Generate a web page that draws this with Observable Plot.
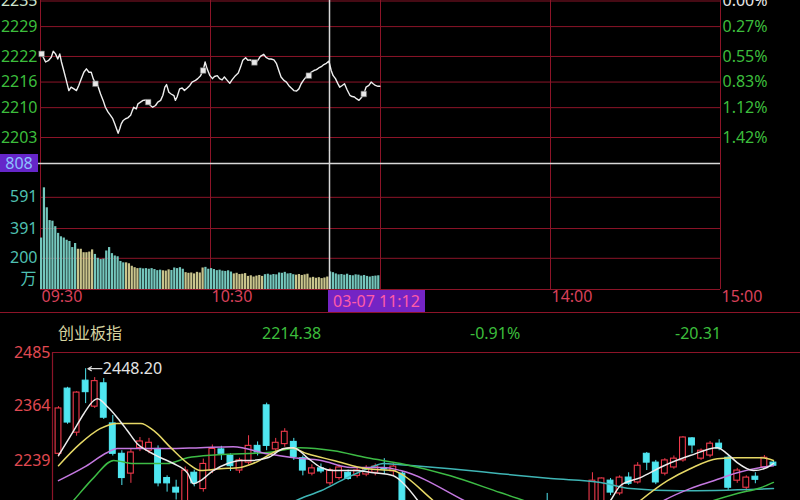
<!DOCTYPE html>
<html><head><meta charset="utf-8">
<script src="https://cdn.jsdelivr.net/npm/d3@7"></script>
<script src="https://cdn.jsdelivr.net/npm/@observablehq/plot@0.6"></script>
<style>
body{margin:0;background:#000;}
#root{position:relative;width:800px;height:500px;overflow:hidden;background:#000;font-family:"Noto Sans","Noto Sans CJK SC",sans-serif;}
#root svg{position:absolute;left:0;}
.lbl{position:absolute;font-size:16px;line-height:1;white-space:nowrap;}
.box{position:absolute;font-size:16px;display:flex;align-items:center;justify-content:center;white-space:nowrap;}
</style></head><body><div id="root"></div>
<script>
// ---------- intraday price (minutes after 09:30) ----------
const priceMinute = [0.4,1.8,2.9,3.8,4.5,5.3,6.1,6.8,7.4,8.2,9.1,10,10.8,11.8,12.7,13.5,14.4,15.3,16.2,17.1,17.9,18.6,19.4,20.2,21.2,22.1,22.9,23.8,24.7,25.5,26.2,26.8,27.4,28,28.5,29.2,30,30.8,31.8,32.4,32.9,33.8,34.4,35.3,36.2,37.1,38,38.8,39.6,40.6,41.4,42.4,43.2,43.9,44.5,45.3,46.1,47.1,47.6,48.2,49.1,50,50.8,51.8,52.7,53.5,54.7,55.5,56.5,57.4,58.1,58.8,59.8,60.7,61.4,62.4,63.2,64.1,64.9,65.9,66.8,67.6,68.8,69.8,70.6,71.4,72.4,73.2,74.1,74.9,75.9,76.7,77.6,78.8,79.6,80.6,81.4,82.4,83.3,84.1,84.9,85.9,86.8,87.6,88.5,89.4,90.4,91.2,92,92.9,93.9,94.7,95.5,96.5,97.4,98.2,99.1,100,100.9,101.8,102.6,103.3,104.1,104.9,105.6,106.5,107.3,108.2,109.2,110,110.8,111.5,112.4,113.2,114.1,114.9,115.9,116.7,117.4,118.2,119.1,119.8];
const priceValue = [2222.6,2220.7,2221.1,2221.8,2223.2,2222.6,2221.4,2222.6,2220.7,2218.7,2216.4,2214.0,2214.8,2214.4,2214.0,2215.2,2216.8,2218.3,2219.1,2218.3,2218.3,2216.8,2215.6,2215.2,2213.2,2211.7,2210.1,2209.0,2208.2,2207.4,2206.2,2205.1,2204.0,2205.1,2206.2,2207.0,2207.4,2207.6,2208.2,2209.3,2210.1,2209.7,2210.9,2211.3,2211.7,2211.8,2211.3,2210.5,2210.1,2210.5,2211.3,2211.7,2212.9,2214.8,2215.4,2213.6,2213.2,2212.8,2211.7,2212.5,2214.4,2214.6,2214.0,2214.6,2215.2,2216.0,2216.4,2216.8,2217.5,2218.7,2220.7,2219.1,2217.5,2216.8,2217.3,2217.5,2216.8,2216.5,2217.2,2216.4,2215.7,2216.5,2217.5,2218.1,2219.5,2221.1,2221.7,2221.1,2221.2,2220.7,2220.4,2221.1,2222.0,2222.5,2221.8,2221.4,2221.4,2221.2,2220.3,2218.7,2217.2,2216.4,2216.0,2215.2,2214.6,2214.0,2213.9,2214.4,2215.6,2216.5,2217.3,2217.5,2218.3,2218.7,2218.9,2219.3,2219.6,2220.1,2220.4,2220.9,2218.7,2217.5,2216.8,2215.7,2214.8,2215.2,2215.6,2214.2,2212.9,2212.6,2212.5,2212.1,2211.7,2212.3,2213.2,2214.8,2215.2,2216.0,2215.6,2215.2,2215.0,2215.0];
const markerMinute = [0.4,19.4,38,57.4,75.5,94.7,114.1];
const markerValue = [2222.6,2215.6,2211.3,2218.7,2220.6,2217.5,2213.2];
const priceTicks = [2235,2229,2222,2216,2210,2203];
const pctTicks = ["0.00%","0.27%","0.55%","0.83%","1.12%","1.42%"];

// ---------- volume (万), one bar per minute ----------
const volume = [330,652,524,442,438,403,360,338,330,316,308,269,295,258,258,236,236,240,254,225,200,192,195,247,269,230,215,210,180,171,171,165,149,140,134,136,132,134,130,134,128,121,124,120,118,126,122,138,134,140,130,108,104,106,100,110,106,138,142,130,134,128,121,124,118,116,120,112,100,104,96,98,102,84,88,80,86,90,84,95,98,92,96,94,106,104,110,100,102,95,92,96,90,94,98,74,78,72,76,70,74,80,113,108,100,94,96,92,98,90,88,94,92,86,90,84,80,84,86,88];
const volumeDir = ["ttttttttttttt","yyyyyy","ttttttttttt","yyyyy","tttttttt","yyy","ttttt","yyyyyyy","tttttttttt","yyyyyyyyyyy","ttttttttttt","yyyyyyyyyyyy","tttttttttttttttttt"].join("");
const volumeTicks = [591,391,200];
const volumeCross = 808;

// ---------- time axis ----------
const gridMinutes = [0,60,120,180,240];
const timeTickMinutes = [0,60,180,240];
const timeTickLabels = ["09:30","10:30","14:00","15:00"];
const crossMinute = 102;
const crossLabel = "03-07 11:12";

// ---------- header ----------
const headerLabels = ["创业板指","2214.38","-0.91%","-20.31"];

// ---------- daily candles ----------
const candleOpen = [2255,2403,2303,2421,2362,2415,2324,2255,2210,2268,2262,2266,2200,2178,2140,2212,2175,2217,2265,2250,2217,2235,2273,2365,2265,2277,2282,2245,2210,2222,2188,2200,2212,2205,2208,2212,2222,2215,2210,2100,2070,2080,2030,2045,2060,2080,2055,2075,2100,2080,2095,2115,2100,2125,2125,2115,2130,2120,2135,2140,2145,2194,2165,2201,2190,2255,2235,2210,2224,2240,2290,2244,2251,2278,2246,2194,2178,2203,2224,2235];
const candleHigh = [2362,2406,2396,2448.2,2428,2426,2342,2262,2265,2292,2290,2273,2205,2195,2225,2218,2243,2275,2272,2255,2245,2296,2282,2370,2290,2312,2290,2250,2230,2232,2222,2230,2218,2222,2228,2232,2244,2235,2215,2120,2095,2090,2060,2070,2090,2100,2085,2110,2120,2105,2125,2130,2135,2140,2165,2140,2145,2140,2145,2212,2200,2199,2205,2212,2235,2258,2240,2244,2250,2294,2292,2266,2283,2287,2250,2222,2205,2212,2251,2238];
const candleLow = [2248,2322,2295,2369,2358,2333,2250,2183,2188,2260,2255,2180,2168,2150,2120,2180,2168,2210,2240,2215,2210,2230,2250,2262,2260,2270,2240,2205,2205,2210,2182,2195,2195,2200,2203,2205,2208,2205,2080,2060,2040,2020,2000,2020,2040,2050,2030,2060,2070,2060,2085,2090,2090,2105,2110,2100,2110,2105,2115,2130,2135,2160,2160,2183,2186,2217,2185,2205,2220,2236,2255,2240,2246,2262,2172,2188,2170,2187,2220,2226];
const candleClose = [2358,2326,2394,2395,2420,2337,2255,2200,2258,2283,2280,2188,2188,2167,2217,2188,2232,2266,2255,2227,2240,2273,2258,2273,2280,2305,2248,2217,2222,2215,2217,2224,2198,2217,2222,2226,2220,2226,2100,2070,2085,2030,2050,2060,2080,2055,2075,2100,2080,2095,2115,2100,2125,2110,2120,2130,2120,2135,2140,2194,2199,2167,2201,2187,2228,2235,2190,2240,2244,2292,2274,2262,2278,2267,2178,2217,2201,2196,2246,2228];
const candleTicks = [2485,2364,2239];

// moving averages: [candle index, value]
const ma5 = [[0,2251],[1.7,2308],[2.8,2346],[3.9,2376],[4.3,2380],[5.5,2360],[6.5,2337],[7.6,2308],[8.7,2278],[9.8,2262],[11.3,2246],[12.7,2233],[14.3,2210],[14.9,2187],[15.7,2194],[17.1,2217],[18.7,2233],[20.1,2240],[21.2,2240],[23.1,2246],[24.9,2267],[26,2269],[27.5,2246],[29,2224],[30.4,2217],[32.6,2217],[34.8,2212],[37,2205],[38,2190],[39.7,2149],[41,2110],[50,2060],[59,2100],[61,2149],[62.1,2183],[64.3,2201],[66.9,2228],[69.8,2251],[72.8,2269],[73.9,2255],[75,2235],[76.8,2217],[78.3,2224],[79,2233]];
const ma10 = [[0,2228],[2.4,2278],[4.6,2312],[6.5,2324],[9.1,2324],[10.5,2308],[12.4,2269],[14.3,2233],[15.7,2217],[17.9,2221],[20.1,2224],[21.5,2233],[24.2,2262],[25.6,2269],[27.5,2255],[30.4,2240],[34.1,2221],[37,2217],[37.8,2210],[41.4,2149],[45,2090],[55,2060],[61,2090],[64.3,2149],[67.3,2194],[69.8,2221],[72.8,2244],[75,2246],[77.6,2246],[79,2240]];
const ma20 = [[0,2194],[2.8,2224],[5.4,2258],[6.5,2267],[8.3,2267],[12,2267],[15.7,2269],[19.3,2271],[23.1,2255],[26,2246],[29,2240],[32.3,2224],[35.9,2224],[37.8,2217],[44.8,2149],[50,2090],[58,2060],[63,2090],[66.9,2149],[69.8,2176],[72.4,2194],[75,2212],[77.6,2224],[79,2228]];
const ma30 = [[0,2110],[1.66,2149],[3.9,2201],[6.1,2240],[8.3,2233],[12,2233],[14.25,2246],[17.6,2253],[23.1,2258],[26.7,2269],[30.4,2262],[34.1,2246],[37.8,2233],[43.3,2205],[48.8,2167],[51.4,2149],[58,2090],[66,2090],[72.4,2149],[75,2165],[77.6,2178],[79,2190]];
const ma60 = [[20,2080],[26.7,2153],[29,2171],[31.9,2201],[34.5,2224],[35.9,2233],[37.8,2230],[43.3,2221],[48.8,2210],[54.4,2199],[59.9,2190],[63.2,2176],[68.7,2171],[79,2176]];

// ---------- drawing ----------
const RED = "#8c1428";
const GREEN = "#3cbd3c";
const FONT = "Noto Sans, Noto Sans CJK SC, sans-serif";
const baseStyle = {background: "transparent", fontFamily: FONT, fontSize: "16px", overflow: "visible"};
const root = document.getElementById("root");

function place(svg, top) { svg.style.top = top + "px"; root.appendChild(svg); }

const priceData = priceMinute.map((m, i) => ({m, v: priceValue[i]}));
const markerData = markerMinute.map((m, i) => ({m, v: markerValue[i]}));

const plotA = Plot.plot({
  width: 800, height: 150, marginLeft: 40, marginRight: 80, marginTop: 0.5, marginBottom: 13,
  x: {domain: [0, 240], axis: null},
  y: {domain: [2203, 2235], axis: null},
  color: {type: "identity"},
  style: baseStyle,
  marks: [
    Plot.ruleY(priceTicks, {stroke: RED, strokeWidth: 1}),
    Plot.ruleX(gridMinutes, {y1: 2199.9, y2: 2236, stroke: RED, strokeWidth: 1}),
    Plot.ruleX([crossMinute], {y1: 2199.9, y2: 2236, stroke: "#d8d8d8", strokeWidth: 1.5}),
    Plot.line(priceData, {x: "m", y: "v", stroke: "#eeeeee", strokeWidth: 1.4}),
    Plot.dot(markerData, {x: "m", y: "v", symbol: "square", r: 3.2, fill: "#e8e8e8", stroke: "#555", strokeWidth: 0.6}),
    Plot.text(priceTicks, {y: d => d, text: d => String(d), frameAnchor: "left", dx: -3, textAnchor: "end",
      fill: (d, i) => i === 0 ? "#cfe5cf" : GREEN, fontSize: 16}),
    Plot.text(pctTicks, {y: (d, i) => priceTicks[i], text: d => d, frameAnchor: "right", dx: 2, textAnchor: "start",
      fill: (d, i) => i === 0 ? "#e8e8e8" : GREEN, fontSize: 16})
  ]
});
place(plotA, 0);

const volData = volume.map((v, m) => ({m, v, c: volumeDir[m] === "y" ? "#c9c48c" : "#74c6bc"}));
const plotB = Plot.plot({
  width: 800, height: 165, marginLeft: 40, marginRight: 80, marginTop: 13, marginBottom: 26,
  x: {domain: [0, 240], axis: null},
  y: {domain: [0, 808], axis: null},
  color: {type: "identity"},
  style: baseStyle,
  marks: [
    Plot.ruleY([0, ...volumeTicks], {stroke: RED, strokeWidth: 1}),
    Plot.ruleX(gridMinutes, {y1: 0, y2: 892, stroke: RED, strokeWidth: 1}),
    Plot.rectY(volData, {x1: "m", x2: d => d.m + 0.78, y: "v", fill: "c"}),
    Plot.ruleX([crossMinute], {y1: 0, y2: 892, stroke: "#d8d8d8", strokeWidth: 1.5}),
    Plot.ruleY([volumeCross], {x1: -14.2, x2: 240, stroke: "#d8d8d8", strokeWidth: 1.5}),
    Plot.text(volumeTicks, {y: d => d, text: d => String(d), frameAnchor: "left", dx: -3, textAnchor: "end", fill: "#4fc0b2", fontSize: 16}),
    Plot.text(["万"], {y: 68, text: d => d, frameAnchor: "left", dx: -4, textAnchor: "end", fill: "#4fc0b2", fontSize: 16}),
    Plot.text(timeTickLabels, {x: (d, i) => timeTickMinutes[i], text: d => d, frameAnchor: "bottom", dy: 12, dx: 1,
      textAnchor: "start", fill: "#d8405a", fontSize: 16})
  ]
});
place(plotB, 150);

// candles
const candles = candleOpen.map((o, i) => ({i, o, h: candleHigh[i], l: candleLow[i], c: candleClose[i],
  up: candleClose[i] >= o}));
const CRED = "#f03a4c", CCYAN = "#4fe6f0";
const line = (pts, color) => Plot.line(pts, {x: d => d[0], y: d => d[1], stroke: color, strokeWidth: 1.5, curve: "monotone-x", clip: true});
const plotC = Plot.plot({
  width: 800, height: 160, marginLeft: 52, marginRight: 0, marginTop: 12, marginBottom: 0,
  x: {domain: [-0.663, 81.99], axis: null},
  y: {domain: [2149, 2485], axis: null},
  color: {type: "identity"},
  style: baseStyle,
  marks: [
    Plot.ruleY([candleTicks[0]], {stroke: RED, strokeWidth: 1.2}),
    Plot.ruleX([-0.663], {y1: 2140, y2: 2485, stroke: RED, strokeWidth: 1.2}),
    Plot.ruleX(candles, {x: "i", y1: "l", y2: "h", stroke: d => d.up ? CRED : CCYAN, strokeWidth: 1, clip: true}),
    Plot.rect(candles, {x1: d => d.i - 0.32, x2: d => d.i + 0.32, y1: "o", y2: d => Math.abs(d.c - d.o) < 1.5 ? d.o + 1.5 : d.c,
      fill: d => d.up ? "#000000" : CCYAN, stroke: d => d.up ? CRED : CCYAN, strokeWidth: 1.1, clip: true}),
    line(ma60, "#3fb5b5"),
    line(ma30, "#3dbb45"),
    line(ma20, "#c478e0"),
    line(ma10, "#e6d866"),
    line(ma5, "#ececec"),
    Plot.arrow([0], {x1: 4.8, y1: candleHigh[3], x2: 3.25, y2: candleHigh[3], stroke: "#dddddd", strokeWidth: 1.2, headLength: 5}),
    Plot.text([candleHigh[3].toFixed(2)], {x: 4.9, y: candleHigh[3], text: d => d, textAnchor: "start", fill: "#e4e4e4", fontSize: 16}),
    Plot.text(candleTicks, {y: d => d, text: d => String(d), frameAnchor: "left", dx: -2, textAnchor: "end", fill: "#e04a52", fontSize: 16})
  ]
});
place(plotC, 340);

// HTML overlays: separator, value boxes, header row
function div(cls, css, text) {
  const d = document.createElement("div");
  d.className = cls; d.style.cssText = css; if (text != null) d.textContent = text;
  root.appendChild(d); return d;
}
div("", "position:absolute;left:0;top:312px;width:800px;height:1px;background:" + RED);
div("box", "left:0;top:154px;width:38px;height:18px;background:#6526c9;color:#8cc0ff;", String(volumeCross));
div("box", "left:328px;top:290px;width:97px;height:22px;background:#7424c4;color:#ff5ca8;", crossLabel);
const headerX = [58, 262, 470, 675];
const headerColor = ["#d6d3a0", GREEN, GREEN, GREEN];
headerLabels.forEach((t, i) => div("lbl", `left:${headerX[i]}px;top:325px;color:${headerColor[i]};`, t));
</script></body></html>
